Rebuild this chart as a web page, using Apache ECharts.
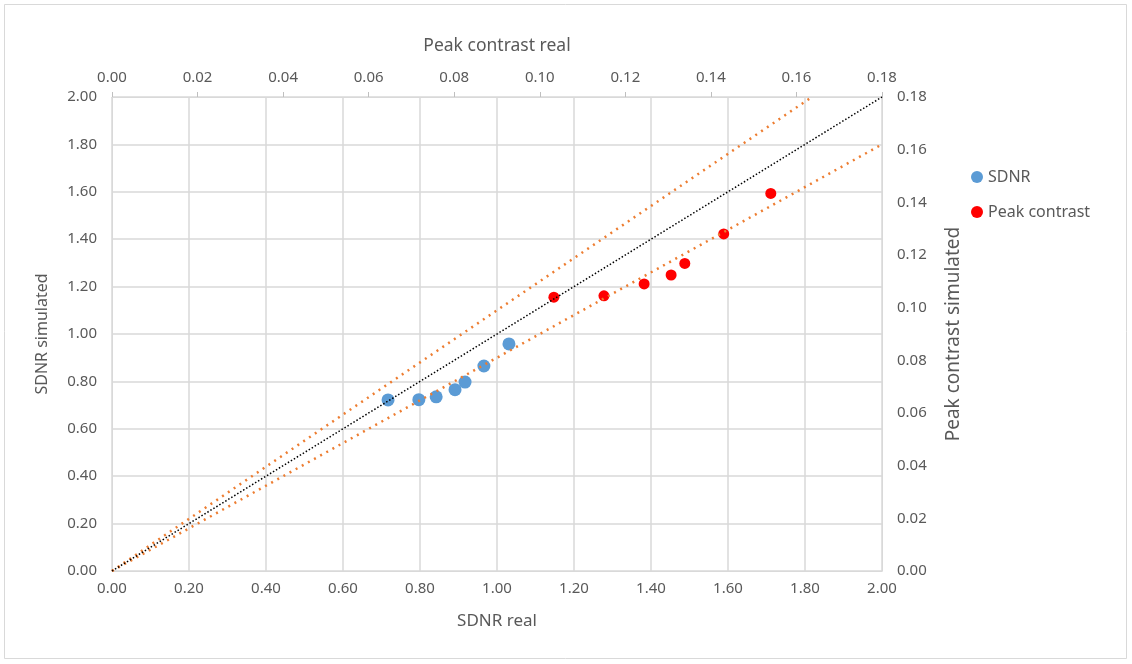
<!DOCTYPE html>
<html>
<head>
<meta charset="utf-8">
<script src="https://cdn.jsdelivr.net/npm/echarts@6/dist/echarts.min.js"></script>
<style>
  html, body { margin: 0; padding: 0; background: #fff; }
  #main { width: 1132px; height: 664px; }
</style>
</head>
<body>
<div id="main"></div>
<script>
// SDNR (primary axes: bottom x, left y)
var sdnrReal = [0.717, 0.797, 0.842, 0.891, 0.917, 0.966, 1.031];
var sdnrSim  = [0.722, 0.723, 0.735, 0.765, 0.797, 0.865, 0.958];

// Peak contrast (secondary axes: top x, right y)
var peakReal = [0.1033, 0.1150, 0.1244, 0.1307, 0.1339, 0.1430, 0.1540];
var peakSim  = [0.1040, 0.1045, 0.1090, 0.1124, 0.1168, 0.1280, 0.1434];

// reference lines (primary axes)
var identityLine = [[0, 0], [2, 2]];
var upperLine = [[0, 0], [1.818, 2]];
var lowerLine = [[0, 0], [2, 1.8]];

var textColor = '#595959';
var gridColor = '#d9d9d9';
var font = 'Noto Sans';

function pairs(xs, ys) {
  return xs.map(function (x, i) { return [x, ys[i]]; });
}
function fmt(v) { return v.toFixed(2); }
function title(size) { return { color: textColor, fontSize: size, fontFamily: font }; }

var labelStyle = { color: textColor, fontSize: 15, fontFamily: font };

var chart = echarts.init(document.getElementById('main'));
chart.setOption({
  animation: false,
  backgroundColor: '#fff',
  textStyle: { fontFamily: font },
  graphic: [{
    type: 'rect',
    shape: { x: 4.5, y: 4.5, width: 1122, height: 654 },
    style: { fill: 'none', stroke: gridColor, lineWidth: 1 },
    silent: true
  }],
  grid: { left: 112, right: 250, top: 97, bottom: 93 },
  legend: {
    orient: 'vertical',
    left: 966,
    top: 164,
    itemGap: 19,
    itemWidth: 12,
    itemHeight: 12,
    textStyle: { color: textColor, fontSize: 16, fontFamily: font },
    data: [
      { name: 'SDNR', icon: 'circle' },
      { name: 'Peak contrast', icon: 'circle', itemStyle: { color: '#ff0000' } }
    ]
  },
  xAxis: [{
    type: 'value', position: 'bottom', min: 0, max: 2, interval: 0.2,
    name: 'SDNR real', nameLocation: 'middle', nameGap: 42,
    nameTextStyle: title(17),
    axisLine: { show: true, onZero: false, lineStyle: { color: gridColor } },
    axisTick: { show: false },
    axisLabel: Object.assign({ margin: 10, formatter: fmt }, labelStyle),
    splitLine: { show: true, lineStyle: { color: gridColor, width: 1.5 } }
  }, {
    type: 'value', position: 'top', min: 0, max: 0.18, interval: 0.02,
    name: 'Peak contrast real', nameLocation: 'middle', nameGap: 42,
    nameTextStyle: title(17.5),
    axisLine: { show: true, onZero: false, lineStyle: { color: gridColor } },
    axisTick: { show: true, inside: false, length: 5, lineStyle: { color: '#bfbfbf' } },
    axisLabel: Object.assign({ margin: 12, formatter: fmt }, labelStyle),
    splitLine: { show: false }
  }],
  yAxis: [{
    type: 'value', position: 'left', min: 0, max: 2, interval: 0.2,
    name: 'SDNR simulated', nameLocation: 'middle', nameGap: 62,
    nameTextStyle: title(16),
    axisLine: { show: true, onZero: false, lineStyle: { color: gridColor } },
    axisTick: { show: false },
    axisLabel: Object.assign({ margin: 15, formatter: fmt }, labelStyle),
    splitLine: { show: true, lineStyle: { color: gridColor, width: 1.5 } }
  }, {
    type: 'value', position: 'right', min: 0, max: 0.18, interval: 0.02,
    name: 'Peak contrast simulated', nameLocation: 'middle', nameGap: 62,
    nameTextStyle: title(19),
    axisLine: { show: true, onZero: false, lineStyle: { color: gridColor } },
    axisTick: { show: false },
    axisLabel: Object.assign({ margin: 15, formatter: fmt }, labelStyle),
    splitLine: { show: false }
  }],
  series: [{
    type: 'line', data: upperLine, xAxisIndex: 0, yAxisIndex: 0,
    showSymbol: false, silent: true,
    lineStyle: { color: '#ed7d31', width: 2.5, type: [2, 5] }
  }, {
    type: 'line', data: lowerLine, xAxisIndex: 0, yAxisIndex: 0,
    showSymbol: false, silent: true,
    lineStyle: { color: '#ed7d31', width: 2.5, type: [2, 5] }
  }, {
    type: 'line', data: identityLine, xAxisIndex: 0, yAxisIndex: 0,
    showSymbol: false, silent: true,
    lineStyle: { color: '#000', width: 1.5, type: [1.5, 2] }
  }, {
    name: 'SDNR', type: 'scatter', xAxisIndex: 0, yAxisIndex: 0,
    data: pairs(sdnrReal, sdnrSim), symbolSize: 13,
    itemStyle: { color: '#5b9bd5', opacity: 1 }
  }, {
    name: 'Peak contrast', type: 'scatter', xAxisIndex: 1, yAxisIndex: 1,
    data: pairs(peakReal, peakSim), symbolSize: 11,
    itemStyle: { color: '#ff0000', opacity: 1 }
  }]
});
</script>
</body>
</html>
